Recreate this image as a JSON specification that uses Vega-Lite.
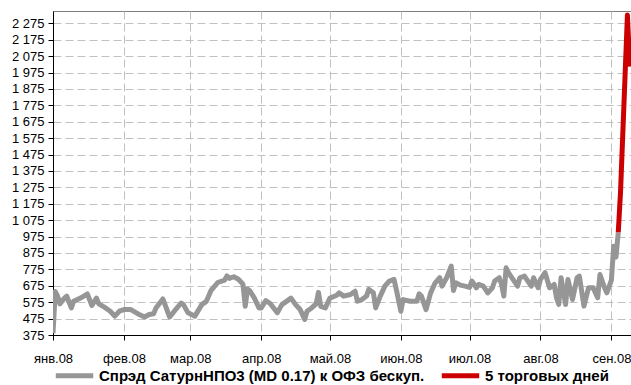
{
  "$schema": "https://vega.github.io/schema/vega-lite/v6.json",
  "width": 579,
  "height": 324,
  "autosize": {"type": "none"},
  "padding": {"left": 53, "top": 11, "right": 0, "bottom": 50},
  "background": "white",
  "config": {
    "view": {"stroke": "#808080", "strokeWidth": 1},
    "font": "Liberation Sans, Arial, sans-serif",
    "axis": {
      "labelFont": "Liberation Sans, Arial, sans-serif",
      "labelFontSize": 13,
      "labelColor": "#000000",
      "domainColor": "#000000",
      "tickColor": "#000000",
      "tickSize": 5,
      "gridColor": "#c0c0c0",
      "gridDash": [8, 4],
      "gridWidth": 1,
      "title": null
    },
    "legend": {
      "labelFont": "Liberation Sans, Arial, sans-serif",
      "labelFontSize": 15,
      "labelFontWeight": "bold",
      "labelColor": "#000000"
    }
  },
  "data": {
    "values": [
      {"d": "2008-01-01", "v": 385, "s": "a"},
      {"d": "2008-01-02", "v": 640, "s": "a"},
      {"d": "2008-01-03", "v": 612, "s": "a"},
      {"d": "2008-01-04", "v": 565, "s": "a"},
      {"d": "2008-01-06", "v": 600, "s": "a"},
      {"d": "2008-01-07", "v": 612, "s": "a"},
      {"d": "2008-01-09", "v": 540, "s": "a"},
      {"d": "2008-01-10", "v": 580, "s": "a"},
      {"d": "2008-01-13", "v": 600, "s": "a"},
      {"d": "2008-01-15", "v": 617, "s": "a"},
      {"d": "2008-01-16", "v": 625, "s": "a"},
      {"d": "2008-01-18", "v": 555, "s": "a"},
      {"d": "2008-01-20", "v": 600, "s": "a"},
      {"d": "2008-01-21", "v": 565, "s": "a"},
      {"d": "2008-01-24", "v": 540, "s": "a"},
      {"d": "2008-01-26", "v": 520, "s": "a"},
      {"d": "2008-01-28", "v": 490, "s": "a"},
      {"d": "2008-01-30", "v": 520, "s": "a"},
      {"d": "2008-02-01", "v": 530, "s": "a"},
      {"d": "2008-02-04", "v": 530, "s": "a"},
      {"d": "2008-02-07", "v": 505, "s": "a"},
      {"d": "2008-02-10", "v": 485, "s": "a"},
      {"d": "2008-02-12", "v": 500, "s": "a"},
      {"d": "2008-02-14", "v": 505, "s": "a"},
      {"d": "2008-02-15", "v": 540, "s": "a"},
      {"d": "2008-02-18", "v": 595, "s": "a"},
      {"d": "2008-02-20", "v": 520, "s": "a"},
      {"d": "2008-02-21", "v": 485, "s": "a"},
      {"d": "2008-02-23", "v": 520, "s": "a"},
      {"d": "2008-02-26", "v": 570, "s": "a"},
      {"d": "2008-02-27", "v": 560, "s": "a"},
      {"d": "2008-02-29", "v": 510, "s": "a"},
      {"d": "2008-03-03", "v": 490, "s": "a"},
      {"d": "2008-03-06", "v": 560, "s": "a"},
      {"d": "2008-03-08", "v": 580, "s": "a"},
      {"d": "2008-03-10", "v": 645, "s": "a"},
      {"d": "2008-03-13", "v": 695, "s": "a"},
      {"d": "2008-03-16", "v": 710, "s": "a"},
      {"d": "2008-03-17", "v": 735, "s": "a"},
      {"d": "2008-03-18", "v": 720, "s": "a"},
      {"d": "2008-03-20", "v": 730, "s": "a"},
      {"d": "2008-03-22", "v": 715, "s": "a"},
      {"d": "2008-03-24", "v": 685, "s": "a"},
      {"d": "2008-03-25", "v": 550, "s": "a"},
      {"d": "2008-03-26", "v": 655, "s": "a"},
      {"d": "2008-03-27", "v": 645, "s": "a"},
      {"d": "2008-03-29", "v": 600, "s": "a"},
      {"d": "2008-03-31", "v": 540, "s": "a"},
      {"d": "2008-04-01", "v": 540, "s": "a"},
      {"d": "2008-04-03", "v": 585, "s": "a"},
      {"d": "2008-04-05", "v": 565, "s": "a"},
      {"d": "2008-04-08", "v": 510, "s": "a"},
      {"d": "2008-04-10", "v": 560, "s": "a"},
      {"d": "2008-04-12", "v": 580, "s": "a"},
      {"d": "2008-04-14", "v": 600, "s": "a"},
      {"d": "2008-04-16", "v": 560, "s": "a"},
      {"d": "2008-04-18", "v": 530, "s": "a"},
      {"d": "2008-04-20", "v": 470, "s": "a"},
      {"d": "2008-04-21", "v": 520, "s": "a"},
      {"d": "2008-04-23", "v": 540, "s": "a"},
      {"d": "2008-04-25", "v": 565, "s": "a"},
      {"d": "2008-04-26", "v": 635, "s": "a"},
      {"d": "2008-04-27", "v": 550, "s": "a"},
      {"d": "2008-04-29", "v": 540, "s": "a"},
      {"d": "2008-05-01", "v": 600, "s": "a"},
      {"d": "2008-05-04", "v": 617, "s": "a"},
      {"d": "2008-05-05", "v": 632, "s": "a"},
      {"d": "2008-05-07", "v": 612, "s": "a"},
      {"d": "2008-05-10", "v": 622, "s": "a"},
      {"d": "2008-05-12", "v": 642, "s": "a"},
      {"d": "2008-05-13", "v": 581, "s": "a"},
      {"d": "2008-05-15", "v": 591, "s": "a"},
      {"d": "2008-05-17", "v": 612, "s": "a"},
      {"d": "2008-05-18", "v": 653, "s": "a"},
      {"d": "2008-05-20", "v": 632, "s": "a"},
      {"d": "2008-05-21", "v": 540, "s": "a"},
      {"d": "2008-05-23", "v": 612, "s": "a"},
      {"d": "2008-05-25", "v": 673, "s": "a"},
      {"d": "2008-05-27", "v": 704, "s": "a"},
      {"d": "2008-05-29", "v": 714, "s": "a"},
      {"d": "2008-05-30", "v": 653, "s": "a"},
      {"d": "2008-06-01", "v": 520, "s": "a"},
      {"d": "2008-06-02", "v": 591, "s": "a"},
      {"d": "2008-06-05", "v": 581, "s": "a"},
      {"d": "2008-06-08", "v": 581, "s": "a"},
      {"d": "2008-06-09", "v": 626, "s": "a"},
      {"d": "2008-06-10", "v": 612, "s": "a"},
      {"d": "2008-06-12", "v": 530, "s": "a"},
      {"d": "2008-06-14", "v": 632, "s": "a"},
      {"d": "2008-06-16", "v": 693, "s": "a"},
      {"d": "2008-06-18", "v": 724, "s": "a"},
      {"d": "2008-06-19", "v": 673, "s": "a"},
      {"d": "2008-06-21", "v": 724, "s": "a"},
      {"d": "2008-06-23", "v": 795, "s": "a"},
      {"d": "2008-06-24", "v": 646, "s": "a"},
      {"d": "2008-06-25", "v": 693, "s": "a"},
      {"d": "2008-06-27", "v": 679, "s": "a"},
      {"d": "2008-06-29", "v": 673, "s": "a"},
      {"d": "2008-07-01", "v": 665, "s": "a"},
      {"d": "2008-07-02", "v": 704, "s": "a"},
      {"d": "2008-07-04", "v": 663, "s": "a"},
      {"d": "2008-07-05", "v": 683, "s": "a"},
      {"d": "2008-07-07", "v": 673, "s": "a"},
      {"d": "2008-07-09", "v": 632, "s": "a"},
      {"d": "2008-07-11", "v": 663, "s": "a"},
      {"d": "2008-07-12", "v": 704, "s": "a"},
      {"d": "2008-07-14", "v": 724, "s": "a"},
      {"d": "2008-07-15", "v": 683, "s": "a"},
      {"d": "2008-07-16", "v": 612, "s": "a"},
      {"d": "2008-07-17", "v": 785, "s": "a"},
      {"d": "2008-07-18", "v": 755, "s": "a"},
      {"d": "2008-07-20", "v": 714, "s": "a"},
      {"d": "2008-07-22", "v": 673, "s": "a"},
      {"d": "2008-07-23", "v": 724, "s": "a"},
      {"d": "2008-07-25", "v": 734, "s": "a"},
      {"d": "2008-07-28", "v": 673, "s": "a"},
      {"d": "2008-07-29", "v": 724, "s": "a"},
      {"d": "2008-07-31", "v": 663, "s": "a"},
      {"d": "2008-08-01", "v": 714, "s": "a"},
      {"d": "2008-08-03", "v": 755, "s": "a"},
      {"d": "2008-08-05", "v": 663, "s": "a"},
      {"d": "2008-08-07", "v": 683, "s": "a"},
      {"d": "2008-08-08", "v": 602, "s": "a"},
      {"d": "2008-08-09", "v": 561, "s": "a"},
      {"d": "2008-08-10", "v": 724, "s": "a"},
      {"d": "2008-08-12", "v": 561, "s": "a"},
      {"d": "2008-08-13", "v": 714, "s": "a"},
      {"d": "2008-08-15", "v": 591, "s": "a"},
      {"d": "2008-08-17", "v": 724, "s": "a"},
      {"d": "2008-08-18", "v": 734, "s": "a"},
      {"d": "2008-08-20", "v": 551, "s": "a"},
      {"d": "2008-08-22", "v": 663, "s": "a"},
      {"d": "2008-08-24", "v": 663, "s": "a"},
      {"d": "2008-08-26", "v": 602, "s": "a"},
      {"d": "2008-08-27", "v": 744, "s": "a"},
      {"d": "2008-08-29", "v": 663, "s": "a"},
      {"d": "2008-08-30", "v": 632, "s": "a"},
      {"d": "2008-09-01", "v": 710, "s": "a"},
      {"d": "2008-09-02", "v": 916, "s": "a"},
      {"d": "2008-09-03", "v": 850, "s": "a"},
      {"d": "2008-09-04", "v": 1000, "s": "a"},
      {"d": "2008-09-04", "v": 1000, "s": "b"},
      {"d": "2008-09-05", "v": 1250, "s": "b"},
      {"d": "2008-09-08", "v": 2325, "s": "b"},
      {"d": "2008-09-09", "v": 2011, "s": "b"}
    ]
  },
  "mark": {"type": "line", "strokeWidth": 5, "strokeJoin": "round", "strokeCap": "butt", "clip": true},
  "encoding": {
    "x": {
      "field": "d",
      "type": "temporal",
      "scale": {
        "type": "utc",
        "domain": [
          {"year": 2008, "month": 1, "date": 1, "utc": true},
          {"year": 2008, "month": 9, "date": 10, "utc": true}
        ]
      },
      "axis": {
        "values": [
          {"year": 2008, "month": 1, "date": 1, "utc": true},
          {"year": 2008, "month": 2, "date": 1, "utc": true},
          {"year": 2008, "month": 3, "date": 1, "utc": true},
          {"year": 2008, "month": 4, "date": 1, "utc": true},
          {"year": 2008, "month": 5, "date": 1, "utc": true},
          {"year": 2008, "month": 6, "date": 1, "utc": true},
          {"year": 2008, "month": 7, "date": 1, "utc": true},
          {"year": 2008, "month": 8, "date": 1, "utc": true},
          {"year": 2008, "month": 9, "date": 1, "utc": true}
        ],
        "labelExpr": "['янв','фев','мар','апр','май','июн','июл','авг','сен','окт','ноя','дек'][utcmonth(datum.value)] + '.' + utcFormat(datum.value, '%y')",
        "labelFlush": false,
        "labelPadding": 12,
        "labelAlign": "center",
        "grid": true
      }
    },
    "y": {
      "field": "v",
      "type": "quantitative",
      "scale": {"domain": [375, 2350], "nice": false, "zero": false},
      "axis": {
        "values": [375, 475, 575, 675, 775, 875, 975, 1075, 1175, 1275, 1375, 1475, 1575, 1675, 1775, 1875, 1975, 2075, 2175, 2275],
        "labelExpr": "replace(format(datum.value, ','), ',', ' ')",
        "labelPadding": 4,
        "grid": true
      }
    },
    "color": {
      "field": "s",
      "type": "nominal",
      "scale": {"domain": ["a", "b"], "range": ["#969696", "#cc0000"]},
      "legend": {
        "orient": "bottom",
        "direction": "horizontal",
        "title": null,
        "symbolType": "stroke",
        "symbolStrokeWidth": 5,
        "symbolSize": 1400,
        "labelOffset": 3,
        "columnPadding": 6,
        "labelLimit": 600,
        "offset": -11,
        "labelExpr": "datum.label == 'a' ? 'Спрэд СатурнНПО3 (MD 0.17) к ОФЗ бескуп.' : '5 торговых дней'"
      }
    }
  }
}
